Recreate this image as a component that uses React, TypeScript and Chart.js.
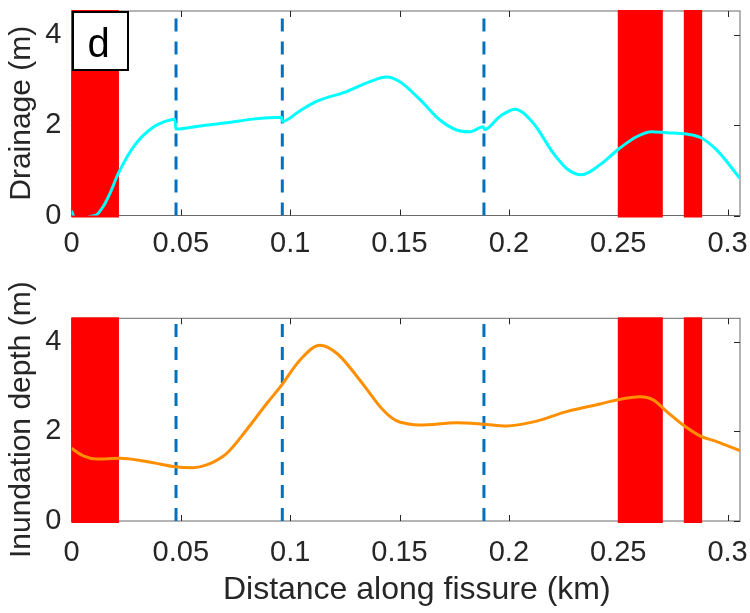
import React, { useEffect, useRef } from 'react';
import { Chart, registerables } from 'chart.js';
Chart.register(...registerables);

// ---- data ----
const distDrain = [0, 0.002, 0.006, 0.0085, 0.011, 0.0145, 0.0176, 0.0214, 0.029, 0.0367, 0.0435, 0.0473, 0.0477, 0.0588, 0.071, 0.083, 0.0961, 0.0965, 0.104, 0.112, 0.1258, 0.1365, 0.1441, 0.15, 0.1594, 0.1685, 0.1761, 0.1822, 0.1883, 0.1888, 0.1959, 0.2028, 0.2112, 0.2203, 0.2264, 0.2333, 0.2417, 0.25, 0.2584, 0.2653, 0.2722, 0.2813, 0.2874, 0.295, 0.3057];
const drainage = [0.1, -0.1, -0.1, -0.02, 0, 0.2, 0.49, 0.93, 1.56, 1.93, 2.09, 2.13, 1.91, 1.98, 2.05, 2.13, 2.17, 2.08, 2.3, 2.52, 2.74, 2.96, 3.06, 2.96, 2.56, 2.11, 1.89, 1.85, 1.96, 1.9, 2.19, 2.35, 2.04, 1.38, 1.04, 0.9, 1.12, 1.46, 1.74, 1.85, 1.83, 1.8, 1.73, 1.45, 0.82];

const distInund = [0, 0.0054, 0.0115, 0.0222, 0.0328, 0.0405, 0.0473, 0.0557, 0.0618, 0.071, 0.08, 0.0893, 0.0961, 0.1045, 0.1136, 0.1213, 0.1319, 0.1411, 0.1445, 0.1485, 0.1535, 0.1594, 0.1761, 0.1883, 0.199, 0.2112, 0.2264, 0.2417, 0.2493, 0.26, 0.266, 0.2722, 0.2797, 0.2874, 0.295, 0.3057];
const inundation = [1.62, 1.45, 1.38, 1.4, 1.34, 1.27, 1.21, 1.19, 1.25, 1.51, 2.03, 2.62, 3.03, 3.59, 3.92, 3.74, 3.14, 2.55, 2.38, 2.24, 2.17, 2.14, 2.19, 2.16, 2.12, 2.21, 2.44, 2.61, 2.7, 2.77, 2.7, 2.44, 2.14, 1.9, 1.77, 1.57];

const fissureX = [0.0478, 0.0964, 0.1886];
const bandStart = [0, 0.2498, 0.28];
const bandEnd = [0.0217, 0.2704, 0.2884];

const xTicks = [0, 0.05, 0.1, 0.15, 0.2, 0.25, 0.3];
const xTickLabels = ['0', '0.05', '0.1', '0.15', '0.2', '0.25', '0.3'];
const yTicks = [0, 2, 4];
const yTickLabels = ['0', '2', '4'];
const X_MAX = 0.3057;
const Y_MAX = 4.52;

const FONT = "'Liberation Sans', Arial, Helvetica, sans-serif";
const TEXT = '#262626';
const AXIS = '#6b6b6b';

function framePlugin(panelLabel: string | null, xTitle: string | null) {
  return {
    id: 'frame',
    beforeDatasetsDraw(chart: any) {
      const { ctx, chartArea } = chart;
      const { left, right, top, bottom } = chartArea;
      const xs = chart.scales.x;
      const ys = chart.scales.y;
      ctx.save();
      ctx.strokeStyle = AXIS;
      ctx.lineWidth = 1;
      ctx.strokeRect(left, top, right - left, bottom - top);
      const tl = 6;
      ctx.strokeStyle = TEXT;
      ctx.beginPath();
      xs.ticks.forEach((t: any) => {
        const px = Math.round(xs.getPixelForValue(t.value)) + 0.5;
        ctx.moveTo(px, bottom); ctx.lineTo(px, bottom - tl);
        ctx.moveTo(px, top); ctx.lineTo(px, top + tl);
      });
      ys.ticks.forEach((t: any) => {
        const py = Math.round(ys.getPixelForValue(t.value)) + 0.5;
        ctx.moveTo(left, py); ctx.lineTo(left + tl, py);
        ctx.moveTo(right, py); ctx.lineTo(right - tl, py);
      });
      ctx.stroke();
      ctx.fillStyle = '#ff0000';
      bandStart.forEach((s, i) => {
        const x0 = xs.getPixelForValue(s);
        const x1 = xs.getPixelForValue(bandEnd[i]);
        ctx.fillRect(x0, top - 1, x1 - x0, bottom - top + 3);
      });
      ctx.restore();
    },
    afterDraw(chart: any) {
      const { ctx, chartArea } = chart;
      const { left, right, top } = chartArea;
      ctx.save();
      if (panelLabel) {
        ctx.fillStyle = '#ffffff';
        ctx.fillRect(left + 1.5, top + 1, 55, 58);
        ctx.strokeStyle = '#000000';
        ctx.lineWidth = 2;
        ctx.strokeRect(left + 1.5, top + 1, 55, 58);
        ctx.fillStyle = '#000000';
        ctx.font = `40px ${FONT}`;
        ctx.textAlign = 'center';
        ctx.textBaseline = 'alphabetic';
        ctx.fillText(panelLabel, left + 27, top + 46);
      }
      if (xTitle) {
        ctx.fillStyle = TEXT;
        ctx.font = `32px ${FONT}`;
        ctx.textAlign = 'center';
        ctx.textBaseline = 'middle';
        ctx.fillText(xTitle, (left + right) / 2 + 11, chart.height - 23);
      }
      ctx.restore();
    },
  };
}

function buildConfig(p: {
  xs: number[]; ys: number[]; color: string; yTitle: string; xTitle: string | null;
  padTop: number; xHeight: number; label: string | null; xTickPad: number;
}) {
  const dashed = fissureX.map((fx) => ({
    data: [{ x: fx, y: 0 }, { x: fx, y: Y_MAX }],
    borderColor: '#0072BD',
    borderWidth: 3,
    borderDash: [13, 10],
    pointRadius: 0,
    tension: 0,
  }));
  const curve = {
    data: p.xs.map((x, i) => ({ x, y: p.ys[i] })),
    borderColor: p.color,
    borderWidth: 3,
    pointRadius: 0,
    cubicInterpolationMode: 'monotone',
  };
  return {
    type: 'line',
    data: { datasets: [curve, ...dashed] },
    options: {
      animation: false,
      responsive: false,
      devicePixelRatio: 1,
      events: [],
      layout: { padding: { top: p.padTop, right: 10, left: 0, bottom: 0 } },
      plugins: { legend: { display: false }, tooltip: { enabled: false } },
      scales: {
        x: {
          type: 'linear',
          min: 0,
          max: X_MAX,
          grid: { display: false, drawTicks: false },
          border: { display: false },
          ticks: {
            font: { family: FONT, size: 29 }, color: TEXT, padding: p.xTickPad, maxRotation: 0, autoSkip: false,
            callback: (_v: any, i: number) => xTickLabels[i],
          },
          afterBuildTicks: (s: any) => { s.ticks = xTicks.map((v) => ({ value: v })); },
          afterFit: (s: any) => { s.height = p.xHeight; s.paddingLeft = 0; s.paddingRight = 0; },
        },
        y: {
          type: 'linear',
          min: 0,
          max: Y_MAX,
          grid: { display: false, drawTicks: false },
          border: { display: false },
          ticks: {
            font: { family: FONT, size: 29 }, color: TEXT, padding: 10,
            callback: (_v: any, i: number) => yTickLabels[i],
          },
          title: { display: true, text: p.yTitle, color: TEXT, font: { family: FONT, size: 30 }, padding: { top: 4, bottom: 0 } },
          afterBuildTicks: (s: any) => { s.ticks = yTicks.map((v) => ({ value: v })); },
          afterFit: (s: any) => { s.width = 71.5; s.paddingTop = 0; s.paddingBottom = 0; },
        },
      },
    },
    plugins: [framePlugin(p.label, p.xTitle)],
  } as any;
}

export default function App() {
  const topRef = useRef<HTMLCanvasElement>(null);
  const botRef = useRef<HTMLCanvasElement>(null);
  useEffect(() => {
    Chart.defaults.color = TEXT;
    const c1 = new Chart(topRef.current!, buildConfig({
      xs: distDrain, ys: drainage, color: '#00FFFF', yTitle: 'Drainage (m)', xTitle: null,
      padTop: 11, xHeight: 300 - 215.5, label: 'd', xTickPad: 11,
    }));
    const c2 = new Chart(botRef.current!, buildConfig({
      xs: distInund, ys: inundation, color: '#FF8F00', yTitle: 'Inundation depth (m)', xTitle: 'Distance along fissure (km)',
      padTop: 118.3, xHeight: 613 - 521, label: null, xTickPad: 15,
    }));
    return () => { c1.destroy(); c2.destroy(); };
  }, []);
  return (
    <div style={{ position: 'absolute', left: 0, top: 0, width: 750, height: 613, background: '#ffffff' }}>
      <canvas ref={topRef} width={750} height={300} style={{ position: 'absolute', left: 0, top: 0, width: 750, height: 300 }} />
      <canvas ref={botRef} width={750} height={413} style={{ position: 'absolute', left: 0, top: 200, width: 750, height: 413 }} />
    </div>
  );
}
